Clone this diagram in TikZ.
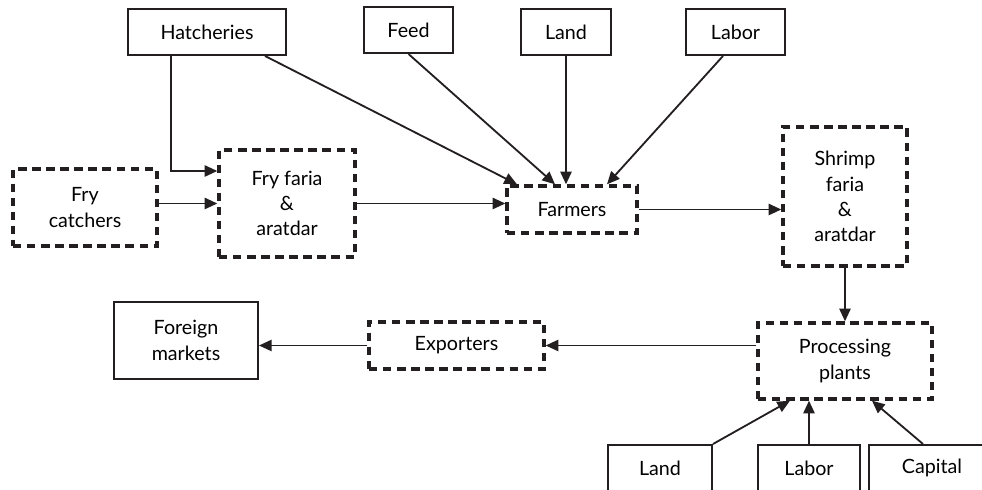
\documentclass[tikz,border=0pt]{standalone}
\usepackage{fontspec}
\setmainfont{Lato}
\usetikzlibrary{arrows.meta, calc}

\definecolor{inkgray}{RGB}{35,31,32}
\tikzset{
    box/.style={draw=inkgray, line width=1.4pt, align=center, inner sep=0pt,
        text=black, font=\fontsize{14}{18}\selectfont},
    dashbox/.style={box, line width=2.4pt, dash pattern=on 6pt off 4pt},
    arr/.style={draw=inkgray, line width=1.3pt, -{Triangle[length=9pt, width=8pt]}}
}

\begin{document}
\begin{tikzpicture}[x=0.025cm, y=-0.025cm]
    \useasboundingbox (0,0) rectangle (982,490);
    % inputs on top
    \node[box, minimum width=3.95cm, minimum height=1.15cm] (hatch) at (207,32) {Hatcheries};
    \node[box, minimum width=2.225cm, minimum height=1.15cm] (feed) at (408.5,30) {Feed};
    \node[box, minimum width=2.25cm, minimum height=1.15cm] (land) at (566,32) {Land};
    \node[box, minimum width=2.475cm, minimum height=1.15cm] (labor) at (735.5,32) {Labor};
    % chain
    \node[dashbox, minimum width=3.6cm, minimum height=1.925cm] (frycatch) at (85,207.5) {Fry\\catchers};
    \node[dashbox, minimum width=3.4cm, minimum height=2.675cm] (fryfaria) at (287,203.5) {Fry faria\\\&\\aratdar};
    \node[dashbox, minimum width=3.25cm, minimum height=1.175cm] (farmers) at (572,209.5) {Farmers};
    \node[dashbox, minimum width=3.1cm, minimum height=3.475cm] (shrimp) at (845,196.5) {Shrimp\\faria\\\&\\aratdar};
    \node[dashbox, minimum width=4.35cm, minimum height=1.9cm] (process) at (845,361) {Processing\\plants};
    \node[dashbox, minimum width=4.375cm, minimum height=1.175cm] (exporters) at (456.5,345.5) {Exporters};
    \node[box, minimum width=3.6cm, minimum height=1.925cm] (foreign) at (186,340.5) {Foreign\\markets};
    % inputs at the bottom
    \node[box, minimum width=2.6cm, minimum height=1.15cm] (landb) at (660,468) {Land};
    \node[box, minimum width=2.55cm, minimum height=1.15cm] (laborb) at (809,468) {Labor};
    \node[box, minimum width=3.15cm, minimum height=1.15cm] (capital) at (932,468) {Capital};

    \draw[arr] ($(hatch.south)+(-36,0)$) |- ($(fryfaria.west)+(0,-32.5)$);
    \draw[arr] ($(hatch.south)+(58,0)$) -- ($(farmers.north)+(-55,0)$);
    \draw[arr] (feed.south) -- ($(farmers.north)+(-17,0)$);
    \draw[arr] (land.south) -- (land.south |- farmers.north);
    \draw[arr] ($(labor.south)+(-12.5,0)$) -- ($(farmers.north)+(35,0)$);
    \draw[arr] (fryfaria.west -| frycatch.east) -- (fryfaria.west);
    \draw[arr] (fryfaria.east) -- (fryfaria.east -| farmers.west);
    \draw[arr] (farmers.east) -- (farmers.east -| shrimp.west);
    \draw[arr] (shrimp.south) -- (process.north);
    \draw[arr] (exporters.east -| process.west) -- (exporters.east);
    \draw[arr] (exporters.west) -- (exporters.west -| foreign.east);
    \draw[arr] (landb.north east) -- ($(process.south)+(-55,0)$);
    \draw[arr] (laborb.north) -- (laborb.north |- process.south);
    \draw[arr] ($(capital.north)+(-9,0)$) -- ($(process.south)+(27,0)$);
\end{tikzpicture}
\end{document}
